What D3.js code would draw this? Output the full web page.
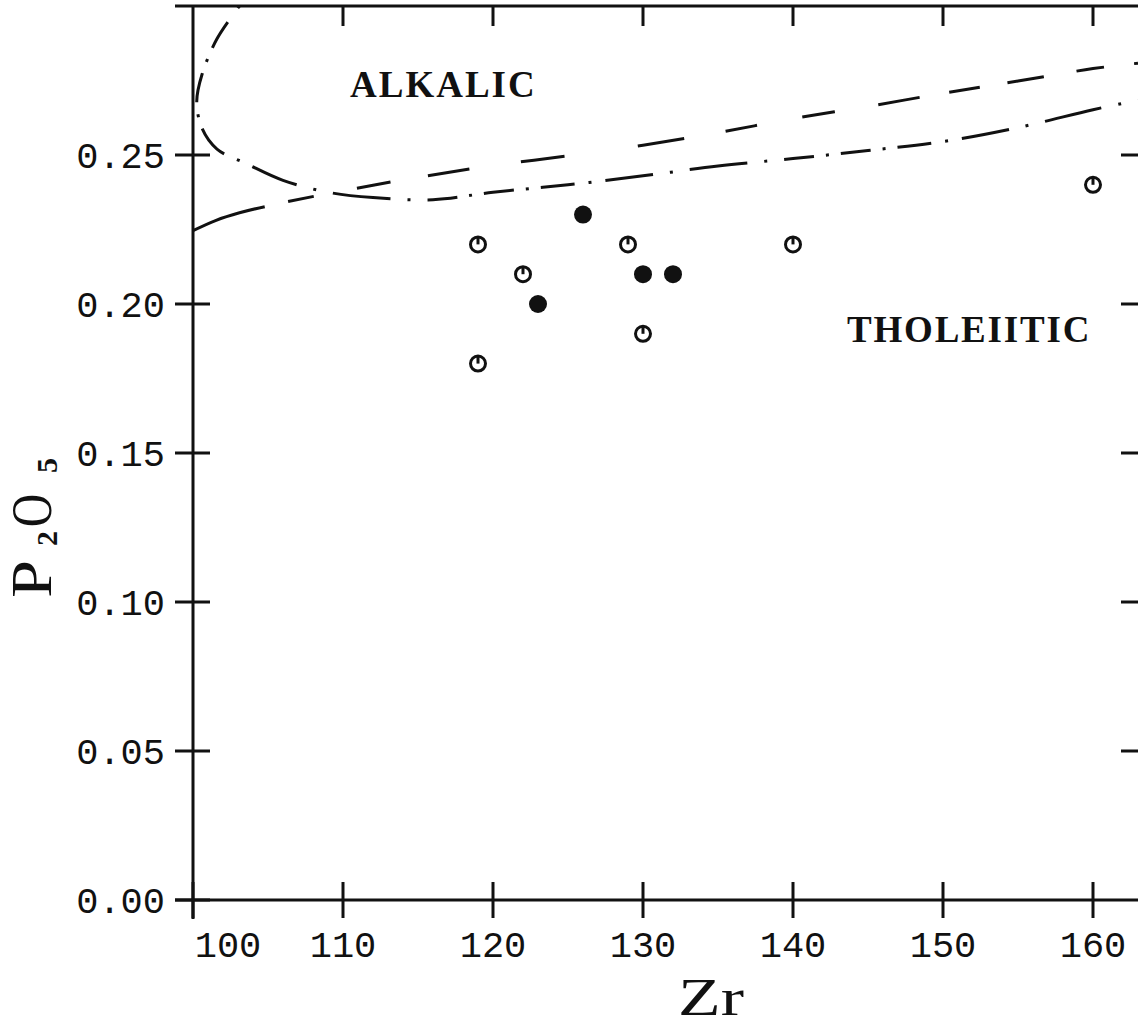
<!DOCTYPE html>
<html>
<head>
<meta charset="utf-8">
<script src="https://cdnjs.cloudflare.com/ajax/libs/d3/7.8.5/d3.min.js"></script>
<style>
  body { margin: 0; background: #fff; }
  svg { display: block; }
</style>
</head>
<body>
<div id="chart"></div>
<script>
// Samples: Zr (ppm) vs P2O5 (wt%)
var filledZr = [126, 123, 130, 132];
var filledP = [0.23, 0.20, 0.21, 0.21];
var openZr = [119, 122, 129, 130, 119, 140, 160];
var openP = [0.22, 0.21, 0.22, 0.19, 0.18, 0.22, 0.24];

// Boundary curves
var alkalicZr = [103.1, 101.6, 100.6, 100.25, 100.6, 101.6, 103.6, 106, 109, 112, 116, 120, 125, 130, 135, 140, 145, 150, 155, 160, 163];
var alkalicP = [0.300, 0.289, 0.277, 0.268, 0.259, 0.252, 0.247, 0.2415, 0.2375, 0.2357, 0.235, 0.2375, 0.240, 0.243, 0.2463, 0.2488, 0.2515, 0.2545, 0.2592, 0.2652, 0.2684];
var tholZr = [100, 101.5, 103.1, 106, 110, 115, 120, 125, 130, 135, 140, 145, 150, 155, 160, 163];
var tholP = [0.2246, 0.228, 0.2306, 0.234, 0.238, 0.2425, 0.2465, 0.2497, 0.2533, 0.2575, 0.2622, 0.2663, 0.2707, 0.2748, 0.279, 0.2808];

var xTicks = [100, 110, 120, 130, 140, 150, 160];
var yTicks = [0.00, 0.05, 0.10, 0.15, 0.20, 0.25];
var yTickLabels = ["0.00", "0.05", "0.10", "0.15", "0.20", "0.25"];

var width = 1138, height = 1028;
var ink = "#111";

var x = d3.scaleLinear().domain([100, 163]).range([193, 1138]);
var y = d3.scaleLinear().domain([0, 0.3]).range([900, 6]);

var svg = d3.select("#chart")
  .append("svg")
  .attr("width", width)
  .attr("height", height);

// Frame: left axis, bottom axis and top border
svg.append("line")
  .attr("x1", x(100)).attr("y1", y(0.3))
  .attr("x2", x(100)).attr("y2", y(0) + 19)
  .attr("stroke", ink).attr("stroke-width", 3);
svg.append("line")
  .attr("x1", x(100) - 18).attr("y1", y(0))
  .attr("x2", width).attr("y2", y(0))
  .attr("stroke", ink).attr("stroke-width", 3);
svg.append("line")
  .attr("x1", x(100) - 18).attr("y1", y(0.3))
  .attr("x2", width).attr("y2", y(0.3))
  .attr("stroke", ink).attr("stroke-width", 3);

// x ticks cross the bottom axis, top ticks point down
svg.selectAll(".xtick")
  .data(xTicks)
  .enter().append("line")
  .attr("class", "xtick")
  .attr("x1", function(d) { return x(d); })
  .attr("x2", function(d) { return x(d); })
  .attr("y1", y(0) - 18)
  .attr("y2", y(0) + 18)
  .attr("stroke", ink).attr("stroke-width", 3);

svg.selectAll(".ttick")
  .data(xTicks.slice(1))
  .enter().append("line")
  .attr("class", "ttick")
  .attr("x1", function(d) { return x(d); })
  .attr("x2", function(d) { return x(d); })
  .attr("y1", y(0.3))
  .attr("y2", y(0.3) + 20)
  .attr("stroke", ink).attr("stroke-width", 3);

// y ticks cross the left axis, right ticks point left
svg.selectAll(".ytick")
  .data(yTicks)
  .enter().append("line")
  .attr("class", "ytick")
  .attr("x1", x(100) - 18)
  .attr("x2", x(100) + 17)
  .attr("y1", function(d) { return y(d); })
  .attr("y2", function(d) { return y(d); })
  .attr("stroke", ink).attr("stroke-width", 3);

svg.selectAll(".rtick")
  .data(yTicks.slice(1))
  .enter().append("line")
  .attr("class", "rtick")
  .attr("x1", x(163) - 17)
  .attr("x2", x(163))
  .attr("y1", function(d) { return y(d); })
  .attr("y2", function(d) { return y(d); })
  .attr("stroke", ink).attr("stroke-width", 3);

// tick labels
svg.selectAll(".ylab")
  .data(yTicks)
  .enter().append("text")
  .attr("class", "ylab")
  .text(function(d, i) { return yTickLabels[i]; })
  .attr("x", 165)
  .attr("y", function(d) { return y(d) + 13; })
  .attr("text-anchor", "end")
  .attr("font-family", "Liberation Mono, DejaVu Sans Mono, monospace")
  .attr("font-size", 37)
  .attr("fill", ink);

svg.selectAll(".xlab")
  .data(xTicks)
  .enter().append("text")
  .attr("class", "xlab")
  .text(function(d) { return d; })
  .attr("x", function(d) { return d == 100 ? x(d) + 35 : x(d); })
  .attr("y", 957)
  .attr("text-anchor", "middle")
  .attr("font-family", "Liberation Mono, DejaVu Sans Mono, monospace")
  .attr("font-size", 37)
  .attr("fill", ink);

// axis titles
svg.append("text")
  .text("Zr")
  .attr("x", 678)
  .attr("y", 1015)
  .attr("font-family", "Liberation Serif, Times New Roman, serif")
  .attr("font-size", 52)
  .attr("textLength", 66)
  .attr("lengthAdjust", "spacingAndGlyphs")
  .attr("fill", ink);

var ylab = svg.append("g")
  .attr("transform", "translate(51,598) rotate(-90)")
  .attr("font-family", "Liberation Serif, Times New Roman, serif")
  .attr("fill", ink);
ylab.append("text").text("P").attr("x", 0).attr("y", 0).attr("font-size", 58)
  .attr("textLength", 38).attr("lengthAdjust", "spacingAndGlyphs");
ylab.append("text").text("2").attr("x", 52).attr("y", 6).attr("font-size", 30)
  .attr("font-weight", "bold");
ylab.append("text").text("O").attr("x", 71).attr("y", 0).attr("font-size", 58)
  .attr("textLength", 33).attr("lengthAdjust", "spacingAndGlyphs");
ylab.append("text").text("5").attr("x", 125).attr("y", 6).attr("font-size", 30)
  .attr("font-weight", "bold");

// field names
svg.append("text")
  .text("ALKALIC")
  .attr("x", 350).attr("y", 97)
  .attr("font-family", "Liberation Serif, Times New Roman, serif")
  .attr("font-weight", "bold")
  .attr("font-size", 37)
  .attr("letter-spacing", 2)
  .attr("fill", ink);

svg.append("text")
  .text("THOLEIITIC")
  .attr("x", 847).attr("y", 342)
  .attr("font-family", "Liberation Serif, Times New Roman, serif")
  .attr("font-weight", "bold")
  .attr("font-size", 37)
  .attr("letter-spacing", 1.8)
  .attr("fill", ink);

// boundary curves
var line = d3.line()
  .x(function(d) { return x(d[0]); })
  .y(function(d) { return y(d[1]); })
  .curve(d3.curveCatmullRom.alpha(0.5));

var alkalicPts = alkalicZr.map(function(v, i) { return [v, alkalicP[i]]; });
var tholPts = tholZr.map(function(v, i) { return [v, tholP[i]]; });

// dash-dot curve bounding the alkalic field
svg.append("path")
  .datum(alkalicPts)
  .attr("d", line)
  .attr("fill", "none")
  .attr("stroke", ink)
  .attr("stroke-width", 3)
  .attr("stroke-dasharray", "30,12,3,12,30,12,3,12,34,14,3,14,48,17,3,17,58,17,3,17")
  .attr("stroke-dashoffset", -20);

// long-dash curve
svg.append("path")
  .datum(tholPts)
  .attr("d", line)
  .attr("fill", "none")
  .attr("stroke", ink)
  .attr("stroke-width", 3)
  .attr("stroke-dasharray", "76,24,26,44,34,38,42,52,44,74,47,42,32,46,33,44,42,30,31,28,37,33,28,30");

// open symbols: circle with a short stroke from the top to the centre
var openPts = openZr.map(function(v, i) { return [v, openP[i]]; });
var og = svg.selectAll(".open")
  .data(openPts)
  .enter().append("g")
  .attr("class", "open")
  .attr("transform", function(d) { return "translate(" + x(d[0]) + "," + y(d[1]) + ")"; });
og.append("circle")
  .attr("r", 7.5)
  .attr("fill", "#fff")
  .attr("stroke", ink)
  .attr("stroke-width", 3);
og.append("line")
  .attr("x1", 0).attr("y1", -7)
  .attr("x2", 0).attr("y2", 0)
  .attr("stroke", ink)
  .attr("stroke-width", 3);

// filled symbols
var filledPts = filledZr.map(function(v, i) { return [v, filledP[i]]; });
svg.selectAll(".filled")
  .data(filledPts)
  .enter().append("circle")
  .attr("class", "filled")
  .attr("cx", function(d) { return x(d[0]); })
  .attr("cy", function(d) { return y(d[1]); })
  .attr("r", 9)
  .attr("fill", ink);
</script>
</body>
</html>
